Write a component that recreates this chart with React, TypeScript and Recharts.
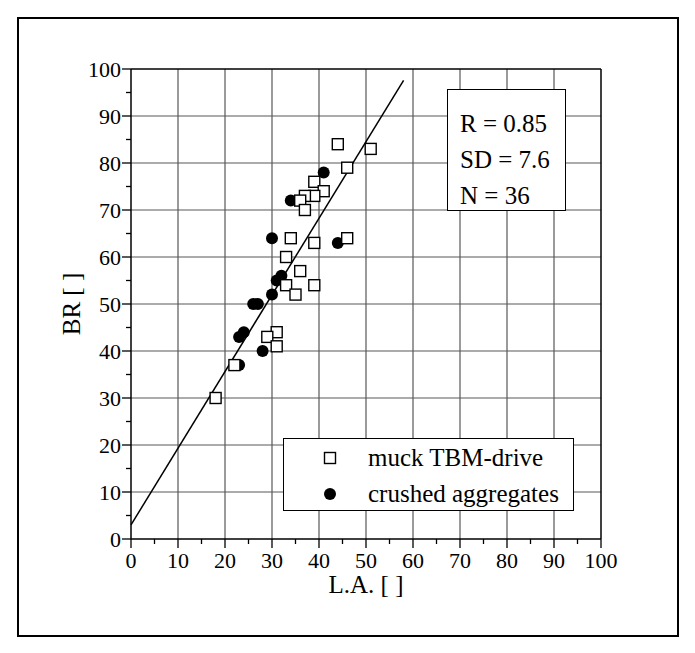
import { ScatterChart, Scatter, XAxis, YAxis, ReferenceLine } from "recharts";

// muck from the TBM drive (open squares)
const MUCK_LA = [44, 51, 46, 39, 41, 39, 37, 36, 37, 34, 46, 39, 33, 36, 33, 39, 35, 31, 29, 31, 22, 18];
const MUCK_BR = [84, 83, 79, 76, 74, 73, 73, 72, 70, 64, 64, 63, 60, 57, 54, 54, 52, 44, 43, 41, 37, 30];

// crushed aggregates (filled circles)
const CRUSHED_LA = [41, 34, 30, 44, 32, 31, 30, 26, 27, 24, 23, 28, 23];
const CRUSHED_BR = [78, 72, 64, 63, 56, 55, 52, 50, 50, 44, 43, 40, 37];

// regression line end points
const FIT_LA = [0, 58];
const FIT_BR = [3, 97.6];

const MAJOR_TICKS = [0, 10, 20, 30, 40, 50, 60, 70, 80, 90, 100];
const MINOR_TICKS = [5, 15, 25, 35, 45, 55, 65, 75, 85, 95];
const ALL_TICKS = [...MAJOR_TICKS, ...MINOR_TICKS].sort((a, b) => a - b);
const GRID_TICKS = [10, 20, 30, 40, 50, 60, 70, 80, 90];

const STATS = ["R = 0.85", "SD = 7.6", "N = 36"];

const FONT = "Liberation Serif, Times New Roman, serif";

const muckData = MUCK_LA.map((la, i) => ({ la, br: MUCK_BR[i] }));
const crushedData = CRUSHED_LA.map((la, i) => ({ la, br: CRUSHED_BR[i] }));
const fitData = FIT_LA.map((la, i) => ({ la, br: FIT_BR[i] }));

type Side = "bottom" | "left" | "top" | "right";

function AxisTick(props: any) {
  const { x, y, payload, side } = props as { x: number; y: number; payload: { value: number }; side: Side };
  const v = payload.value;
  const major = v % 10 === 0;
  const len = major ? 9 : 5;
  let x2 = x;
  let y2 = y;
  if (side === "bottom") y2 = y + len;
  if (side === "top") y2 = y - len;
  if (side === "left") x2 = x - len;
  if (side === "right") x2 = x + len;
  const textStyle = { fontFamily: FONT, fontSize: 22 };
  return (
    <g>
      <line x1={x} y1={y} x2={x2} y2={y2} stroke="#000" strokeWidth={1.3} />
      {major && side === "bottom" && (
        <text x={x} y={y + 29} textAnchor="middle" style={textStyle} fill="#000">
          {v}
        </text>
      )}
      {major && side === "left" && (
        <text x={x - 10} y={y + 8} textAnchor="end" style={textStyle} fill="#000">
          {v}
        </text>
      )}
    </g>
  );
}

const squareShape = (p: any) => (
  <rect x={p.cx - 5.5} y={p.cy - 5.5} width={11} height={11} fill="#fff" stroke="#000" strokeWidth={1.4} />
);
const circleShape = (p: any) => <circle cx={p.cx} cy={p.cy} r={6} fill="#000" />;

const axisLine = { stroke: "#000", strokeWidth: 1.5 };
const gridStroke = "#585858";

export default function App() {
  return (
    <div style={{ position: "relative", width: 695, height: 653, margin: -8, background: "#fff", fontFamily: FONT }}>
      {/* outer frame */}
      <div
        style={{
          position: "absolute",
          left: 17,
          top: 17,
          width: 658,
          height: 616,
          border: "2px solid #000",
        }}
      />
      <div style={{ position: "absolute", left: 0, top: 0 }}>
        <ScatterChart width={695} height={653} margin={{ top: 59, right: 84, bottom: 54, left: 71 }}>
          {/* grid drawn as reference lines at the major ticks */}
          {GRID_TICKS.map((t) => (
            <ReferenceLine key={"gx" + t} x={t} stroke={gridStroke} strokeWidth={1.2} zIndex={-100} />
          ))}
          {GRID_TICKS.map((t) => (
            <ReferenceLine key={"gy" + t} y={t} stroke={gridStroke} strokeWidth={1.2} zIndex={-100} />
          ))}
          <XAxis
            dataKey="la"
            type="number"
            domain={[0, 100]}
            ticks={ALL_TICKS}
            interval={0}
            height={60}
            tickSize={0}
            tickMargin={0}
            tickLine={false}
            axisLine={axisLine}
            tick={(p: any) => <AxisTick {...p} side="bottom" />}
          />
          <XAxis
            xAxisId="top"
            orientation="top"
            type="number"
            domain={[0, 100]}
            ticks={ALL_TICKS}
            interval={0}
            height={10}
            tickSize={0}
            tickMargin={0}
            tickLine={false}
            axisLine={axisLine}
            tick={(p: any) => <AxisTick {...p} side="top" />}
          />
          <YAxis
            dataKey="br"
            type="number"
            domain={[0, 100]}
            ticks={ALL_TICKS}
            interval={0}
            width={60}
            tickSize={0}
            tickMargin={0}
            tickLine={false}
            axisLine={axisLine}
            tick={(p: any) => <AxisTick {...p} side="left" />}
          />
          <YAxis
            yAxisId="right"
            orientation="right"
            type="number"
            domain={[0, 100]}
            ticks={ALL_TICKS}
            interval={0}
            width={10}
            tickSize={0}
            tickMargin={0}
            tickLine={false}
            axisLine={axisLine}
            tick={(p: any) => <AxisTick {...p} side="right" />}
          />
          <Scatter
            data={fitData}
            line={{ stroke: "#000", strokeWidth: 1.5 }}
            lineType="joint"
            shape={() => <g />}
            isAnimationActive={false}
          />
          <Scatter data={crushedData} shape={circleShape} isAnimationActive={false} />
          <Scatter data={muckData} shape={squareShape} isAnimationActive={false} />
        </ScatterChart>
      </div>

      {/* axis titles */}
      <div
        style={{
          position: "absolute",
          left: 72,
          top: 304,
          transform: "translate(-50%, -50%) rotate(-90deg)",
          fontSize: 25,
          whiteSpace: "nowrap",
        }}
      >
        BR [ ]
      </div>
      <div
        style={{
          position: "absolute",
          left: 366,
          top: 585,
          transform: "translate(-50%, -50%)",
          fontSize: 25,
          lineHeight: "26px",
          whiteSpace: "nowrap",
        }}
      >
        L.A. [ ]
      </div>

      {/* statistics box */}
      <div
        style={{
          position: "absolute",
          left: 447,
          top: 89,
          width: 119,
          height: 122,
          border: "1.5px solid #000",
          background: "#fff",
          fontSize: 25,
          lineHeight: "36px",
          paddingLeft: 12,
          paddingTop: 16,
          boxSizing: "border-box",
        }}
      >
        {STATS.map((s) => (
          <div key={s} style={{ whiteSpace: "nowrap" }}>
            {s}
          </div>
        ))}
      </div>

      {/* legend */}
      <div
        style={{
          position: "absolute",
          left: 283,
          top: 438,
          width: 291,
          height: 73,
          border: "1.5px solid #000",
          background: "#fff",
          fontSize: 25,
          boxSizing: "border-box",
        }}
      >
        <LegendRow top={2} label="muck TBM-drive" square />
        <LegendRow top={38} label="crushed aggregates" />
      </div>
    </div>
  );
}

function LegendRow(props: { top: number; label: string; square?: boolean }) {
  return (
    <div style={{ position: "absolute", left: 0, top: props.top, height: 34, display: "flex", alignItems: "center", whiteSpace: "nowrap" }}>
      <svg width={84} height={34} style={{ display: "block" }}>
        {props.square ? (
          <rect x={40.5} y={11.5} width={11} height={11} fill="#fff" stroke="#000" strokeWidth={1.4} />
        ) : (
          <circle cx={46} cy={17} r={6} fill="#000" />
        )}
      </svg>
      <span>{props.label}</span>
    </div>
  );
}
